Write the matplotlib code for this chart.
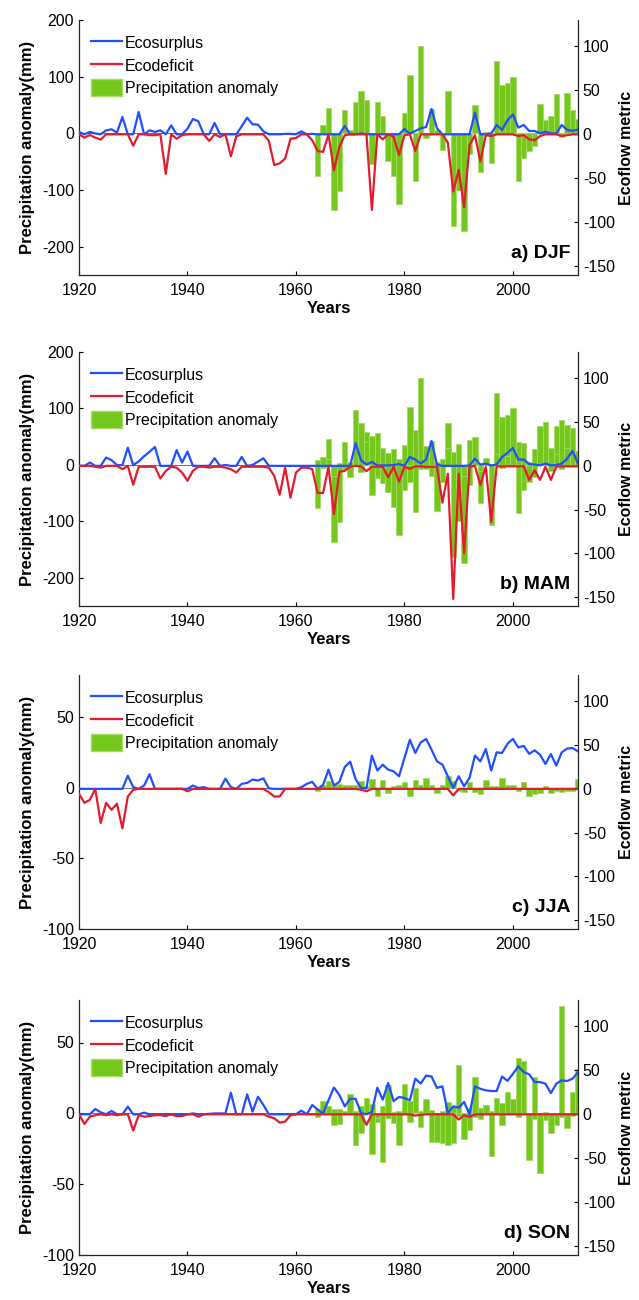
import numpy as np
import matplotlib
matplotlib.use('Agg')
import matplotlib.pyplot as plt
from matplotlib.lines import Line2D
from matplotlib.patches import Patch

plt.rcParams['font.family'] = ['Liberation Sans', 'DejaVu Sans']
plt.rcParams['axes.unicode_minus'] = False

years = np.arange(1920, 2013)
bar_years = np.arange(1964, 2013)

# ecoflow metric (right axis), one value per year 1920-2012
surplus_djf = [2.7, 0, 2.7, 1, 0, 4.5, 5.7, 1.9, 19.7, 0,
               0, 25.4, 0, 4.5, 2.7, 4.5, 0, 10.2, 0, 0,
               6.4, 17.4, 14.8, 0, 0, 12.9, 0, 0, 0, 0,
               9.1, 18.9, 11.4, 11, 3.4, 0, 0, 0, 0.5, 0.5,
               0, 3.4, 0, 0.5, 0, 0, 0, 0, 0, 9.5,
               0, 0, 1, 0, 0, 0, 0, 0, 0, 0,
               6, 0.5, 3.8, 6.8, 8.3, 28.8, 6.8, 0, 0, 0,
               0, 0, 0, 24.6, 0, 0, 1, 10.6, 5, 16,
               22.7, 7.6, 10.6, 3.8, 3.8, 1, 3, 1, 1, 10.6,
               5, 4, 5.3]
deficit_djf = [0, -3.8, -0.8, -3.8, -6, 0, 0, 0, 0, 0,
               -13, 0, 0, -1, -1, 0, -45, 0, -5, -1,
               0, 0, 0, 0, -7.6, 0, -3, 0, -25, -2.3,
               0, 0, 0, 0, 0, -7.6, -35, -33, -27.7, -5,
               -4.2, 0, 0, -6.8, -19, -20, 0, -41, -14.4, -1,
               0, 0, 0, 0, -86, 0, -5.7, 0, -2.7, -23.5,
               -1, 0, -19, 0, 0, 0, 0, 0, -9.5, -65,
               -40.5, -83, -12.5, -1, -31, -1, -2, 0, 0, 0,
               0, -2, -1, -5.7, -6.8, -2, 0, 0, 0, -2,
               -1, 0, 0]
surplus_mam = [0, 0, 3.8, 0, 0, 9.5, 6.5, 0.8, 0.8, 20.8,
               0.8, 5, 11, 16, 21.6, 0, 0, 0, 18, 3.8,
               16.3, 0, 0, 0, 0, 8.7, 0, 1, 0, 0,
               10.2, 0, 1, 4.9, 8.7, 0, 0, 0, 0, 0,
               0, 0, 0, 0, 0, 0, 0, 0, 0, 0,
               0, 26, 6.4, 1.5, 4.5, 0.5, 0.5, 0.5, 1, 2,
               0, 10.2, 7.2, 2.7, 7.2, 28.4, 1.5, 0, 0, 0,
               0, 0, 0.5, 8.3, 1.5, 2.5, 0.5, 1.5, 10.2, 14.8,
               20.5, 7.2, 7.2, 2, 1.5, 0.5, 2.7, 0.5, 1, 2.5,
               8.3, 17, 2.7]
deficit_mam = [0, 0, 0, -1, -2, 0, 0, 0, -3.8, 0,
               -21.6, -1, -1, -1, -1, -14.4, -5.7, -1, -2, -7.6,
               -17, -5.7, -1, -1, -2, -1, -1, -2, -3.8, -7.6,
               -1, -1, -1, -1, -1, -2, -11.4, -33, -2, -36.4,
               -7.6, -2, -2, -3.8, -31, -31, -1, -55, -6.8, -5.7,
               -1, 0, -0.5, -6, -1, -1, -1, -13, -1, -18,
               -1, -3.4, -0.5, -0.5, -1, -1, -1, -42, -9, -152,
               -9, -100, -1, 0, -22, -1, -64, -0.5, -0.5, -0.5,
               -0.5, -0.5, -0.5, -16, -5, -16, -1, -16, -1, -0.5,
               -0.5, -0.5, -0.5]
surplus_jja = [0, 0, 0, 0, 0, 0, 0, 0, 0, 15,
               2, 0, 3.8, 16.7, 0, 0, 0, 0, 0, 0,
               0, 3.8, 1, 2, 0, 0, 0, 11.7, 2, 0,
               5.7, 6.8, 10.6, 9.5, 12, 0.5, 0, 0, 0, 0,
               0, 1.9, 5.7, 8, 0, 4.5, 22, 3.8, 8, 25,
               31, 11, 1, 0.5, 38, 21, 27.6, 22, 20, 14.4,
               35, 56, 41, 53, 57, 44.7, 31.4, 27.7, 14.4, 1,
               14.4, 3, 12.5, 38, 31.4, 45.5, 21, 41.7, 41, 51.5,
               57, 47.3, 49, 40, 44, 39, 28.4, 39.8, 26.5, 41.7,
               46, 46.6, 42.8]
deficit_jja = [-5.7, -16, -12.5, 0, -39, -16, -24, -17, -45, -8.7,
               -1, 0, 0, 0, 0, 0, 0, 0, 0, 0,
               -2.7, 0, 0, 0, 0, 0, 0, 0, 0, 0,
               0, 0, 0, 0, 0, -3.8, -8.7, -8.7, 0, 0,
               0, 0, 0, 0, 0, 0, 0, 0, 0, 0,
               0, 0, -1, -2.7, 0, 0, 0, 0, 0, 0,
               0, 0, 0, 0, 0, 0, 0, 0, 0, -7.6,
               0, 0, 0, 0, 0, 0, 0, 0, 0, 0,
               0, 0, 0, 0, 0, 0, 0, 0, 0, 0,
               0, 0, 0]
surplus_son = [0, 0, 0, 6, 2.3, 0, 3.8, 0, 0, 8.7,
               0, 0, 1.9, 0, 0, 0, 0, 0, 0, 0,
               0, 1, 0, 0, 0.5, 1, 1, 1, 24.6, 0,
               0, 22.7, 3, 20, 10.6, 0, 0, 0, 0, 0,
               0, 4.2, 0, 10.6, 5.5, 0.8, 16, 30.5, 22, 9,
               17.8, 17.5, 1.5, 0, 2.7, 30.3, 16.7, 35.6, 15, 19.7,
               18.6, 15.9, 40.5, 35, 44, 43, 30, 31.8, 1.5, 9,
               7.6, 14, 0, 31.8, 29, 27.3, 26.5, 26.5, 43, 38,
               46, 54.5, 48, 45.5, 36.7, 36.7, 34.8, 24, 34.8, 38.6,
               37.9, 40.5, 48]
deficit_son = [0, -11, -2.7, -1, 0, -1, 0, -1, 0, 0,
               -18.6, -1, -2.7, -2, -1, -1, -2, 0, -2, -2,
               0, 0, -2.7, 0, 0, 0, 0, 0, 0, 0,
               0, 0, 0, 0, 0, -2.7, -4.5, -9.5, -8.3, -1,
               0, 0, 0, 0, 0, 0, 0, 0, 0, 0,
               0, 0, 0, -12, 0, 0, 0, 0, 0, 0,
               0, 0, -1.5, -0.5, 0, 0, 0, 0, 0, 0,
               -6, -1, -3, 0, 0, 0, 0, 0, 0, 0,
               0, 0, 0, 0, 0, 0, 0, 0, 0, 0,
               0, 0, 0]

# precipitation anomaly (mm, left axis), 1964-2012
precip_djf = [-76, 14, 45, -136, -101, 41, 5, 55, 74, 59,
              -54, 56, 30, -48, -75, -125, 36, 103, -84, 154,
              -8, 43, 5, -30, 75, -163, -100, -173, -36, 50,
              -68, 3, -53, 128, 85, 89, 100, -85, -44, -31,
              -22, 52, 24, 30, 69, -7, 71, 41, 25]
precip_mam = [8, -5, 10, -20, 4, -8, -21, 97, -12, 40,
              52, -23, -32, 21, 28, 10, -44, -30, 61, -8,
              33, -20, -82, 10, 30, 22, 37, -20, 44, 10,
              -10, 12, -107, 20, -5, 15, 30, 40, 38, 5,
              28, 69, 76, -11, 20, 79, 30, 66, 10]
precip_jja = [-2.3, 2, 5, 3, 3, 2, 2, 2, 5, 1,
              6.5, -6, 5.4, -3.3, 1, 2, 4, -6, 5.4, 2,
              7, 2.3, -3.5, 2, 8.2, 4.7, -2, -2.8, 4, -2.8,
              -4, 5.6, 1.4, 1, 7, 2, 2.3, -2.3, 4.2, -5.6,
              -4, -3.3, 1, -3.3, -2, -2.8, -2, -2, 6.6]
precip_son = [3, 9, 5, -8, -7.5, 2, 13.6, -22, -14, 10.8,
              -29, -3, -34, 20, -7, -22, 20.7, 9, 17.6, -9.4,
              10, -20, -20, -21, -22, -21, 34, -18, -12, 26,
              4, 6, -30, 11, -8, 15, 10, 39, 36.6, -33,
              26, -42, -5, -14, -8, 76, -10.6, 15, 31]

BLUE = '#1f50ff'
RED = '#e41b2e'
GREEN = '#76c71c'
GREEN_EDGE = '#a3dc62'

# (label, bar sets, surplus, deficit, left ylim, left ticks, axes top/bottom px)
panels = [
    ('a) DJF', [precip_djf], surplus_djf, deficit_djf, (-250, 200), [-200, -100, 0, 100, 200], 20, 275),
    ('b) MAM', [precip_djf, precip_mam], surplus_mam, deficit_mam, (-250, 200), [-200, -100, 0, 100, 200], 352, 606),
    ('c) JJA', [precip_jja], surplus_jja, deficit_jja, (-100, 80), [-100, -50, 0, 50], 675, 929),
    ('d) SON', [precip_jja, precip_son], surplus_son, deficit_son, (-100, 80), [-100, -50, 0, 50], 1000, 1255),
]

W, H = 639, 1300
fig = plt.figure(figsize=(W / 100, H / 100), dpi=100)

for label, bar_sets, surplus, deficit, ylim, yticks, top, bottom in panels:
    ax = fig.add_axes([79 / W, 1 - bottom / H, 499 / W, (bottom - top) / H])
    for vals in bar_sets:
        ax.bar(bar_years, vals, width=1.0, color=GREEN, edgecolor=GREEN_EDGE, linewidth=0.6, zorder=2)
    ax.axhline(0, color='0.35', lw=0.6, zorder=1)
    ax.set_xlim(1920, 2012)
    ax.set_ylim(*ylim)
    ax.set_yticks(yticks)
    ax.set_xticks([1920, 1940, 1960, 1980, 2000])
    ax.tick_params(direction='in', length=3, width=0.8, labelsize=11.5, top=False, right=False)
    ax.tick_params(axis='x', pad=6)
    for s in ['top', 'right']:
        ax.spines[s].set_visible(False)
    for s in ['left', 'bottom']:
        ax.spines[s].set_linewidth(0.9)
        ax.spines[s].set_color('0.15')
    ax.set_ylabel('Precipitation anomaly(mm)', fontsize=12, fontweight='bold', labelpad=5)
    ax.set_xlabel('Years', fontsize=12, fontweight='bold', labelpad=2)

    ax2 = ax.twinx()
    ax2.plot(years, surplus, color=BLUE, lw=1.6, zorder=3)
    ax2.plot(years, deficit, color=RED, lw=1.6, zorder=4)
    ax2.set_ylim(-160, 130)
    ax2.set_yticks([-150, -100, -50, 0, 50, 100])
    ax2.tick_params(direction='in', length=3, width=0.8, labelsize=11.5)
    for s in ['top', 'left', 'bottom']:
        ax2.spines[s].set_visible(False)
    ax2.spines['right'].set_linewidth(0.9)
    ax2.spines['right'].set_color('0.15')
    ax2.set_ylabel('Ecoflow metric', fontsize=11.5, fontweight='bold', labelpad=3)

    ax2.text(0.985, 0.05, label, transform=ax2.transAxes, ha='right', va='bottom',
             fontsize=14, fontweight='bold')

    handles = [Line2D([], [], color=BLUE, lw=1.6),
               Line2D([], [], color=RED, lw=1.6),
               Patch(facecolor=GREEN, edgecolor=GREEN_EDGE)]
    ax2.legend(handles, ['Ecosurplus', 'Ecodeficit', 'Precipitation anomaly'],
               loc='upper left', bbox_to_anchor=(-0.005, 1.0), frameon=False,
               fontsize=11.5, handlelength=1.95, handleheight=1.3, handletextpad=0.2,
               labelspacing=0.3, borderaxespad=0.6, borderpad=0.3)

fig.savefig('out.png', dpi=100)
